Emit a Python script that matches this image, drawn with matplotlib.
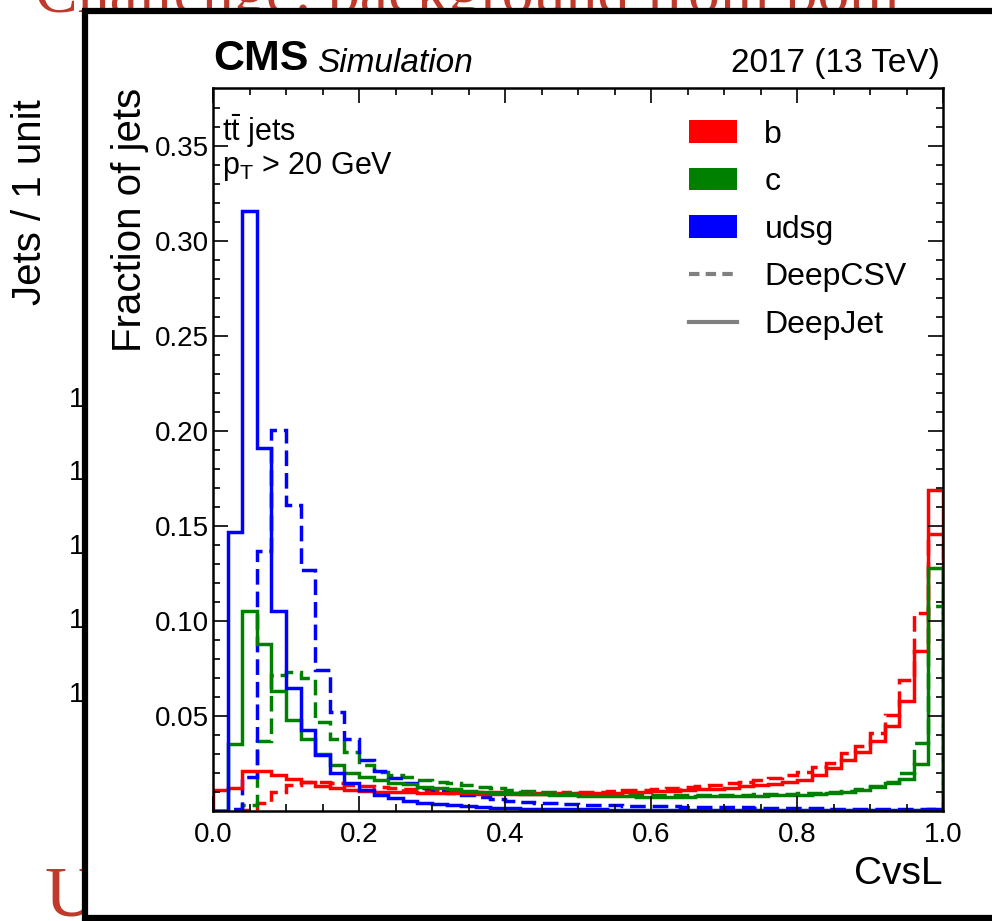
import numpy as np
import matplotlib
matplotlib.use("Agg")
import matplotlib.pyplot as plt
from matplotlib.patches import Rectangle, Patch
from matplotlib.lines import Line2D

plt.rcParams['font.family'] = ['Liberation Sans', 'DejaVu Sans']
plt.rcParams['mathtext.fontset'] = 'custom'
plt.rcParams['mathtext.rm'] = 'Liberation Sans'
plt.rcParams['mathtext.it'] = 'Liberation Sans:italic'

# 50 bins of CvsL between 0 and 1
edges = np.linspace(0.0, 1.0, 51)

b_deepjet = [0.011, 0.012, 0.021, 0.021, 0.019, 0.0167, 0.015, 0.013, 0.012, 0.011,
             0.0105, 0.0102, 0.0100, 0.0098, 0.0096, 0.0095, 0.0094, 0.0093, 0.0092, 0.0091,
             0.0090, 0.0090, 0.0090, 0.0091, 0.0092, 0.0093, 0.0095, 0.0097, 0.0099, 0.0101,
             0.0104, 0.0107, 0.0110, 0.0114, 0.0118, 0.0123, 0.0129, 0.0136, 0.0144, 0.0153,
             0.0163, 0.019, 0.0225, 0.027, 0.031, 0.037, 0.0447, 0.058, 0.084, 0.169]
b_deepcsv = [0.0, 0.0, 0.0005, 0.004, 0.010, 0.0135, 0.0155, 0.0155, 0.0145, 0.0135,
             0.013, 0.0125, 0.012, 0.0115, 0.011, 0.0107, 0.0104, 0.0102, 0.0100, 0.0098,
             0.0097, 0.0096, 0.0096, 0.0097, 0.0098, 0.0100, 0.0102, 0.0105, 0.0110, 0.0113,
             0.0118, 0.0122, 0.0127, 0.0132, 0.0138, 0.0145, 0.0153, 0.0163, 0.0175, 0.019,
             0.0207, 0.023, 0.025, 0.0305, 0.034, 0.041, 0.0505, 0.069, 0.104, 0.146]
c_deepjet = [0.0, 0.0355, 0.105, 0.088, 0.063, 0.048, 0.038, 0.030, 0.024, 0.020,
             0.018, 0.0163, 0.0148, 0.014, 0.0128, 0.012, 0.0114, 0.0107, 0.0102, 0.0097,
             0.0093, 0.0090, 0.0087, 0.0084, 0.0082, 0.0080, 0.0079, 0.0078, 0.0077, 0.0076,
             0.0076, 0.0076, 0.0076, 0.0077, 0.0077, 0.0078, 0.0079, 0.0080, 0.0082, 0.0083,
             0.0085, 0.0088, 0.0093, 0.0100, 0.011, 0.0125, 0.0146, 0.017, 0.0247, 0.128]
c_deepcsv = [0.0, 0.0, 0.003, 0.037, 0.0716, 0.073, 0.070, 0.047, 0.038, 0.031,
             0.024, 0.0207, 0.019, 0.0177, 0.0163, 0.0154, 0.0146, 0.0137, 0.0128, 0.0122,
             0.0112, 0.0107, 0.0102, 0.0098, 0.0094, 0.0091, 0.0088, 0.0086, 0.0085, 0.0084,
             0.0083, 0.0083, 0.0083, 0.0083, 0.0084, 0.0085, 0.0086, 0.0087, 0.0089, 0.0091,
             0.0093, 0.0096, 0.0100, 0.0106, 0.0115, 0.013, 0.015, 0.020, 0.036, 0.108]
udsg_deepjet = [0.0, 0.147, 0.316, 0.191, 0.105, 0.0647, 0.0426, 0.0295, 0.0198, 0.0147,
                0.011, 0.0084, 0.0067, 0.0054, 0.0044, 0.0037, 0.0030, 0.0026, 0.0021, 0.0017,
                0.0014, 0.0012, 0.0011, 0.0010, 0.0009, 0.0008, 0.0008, 0.0007, 0.0007, 0.0006,
                0.0006, 0.0005, 0.0005, 0.0005, 0.0005, 0.0004, 0.0004, 0.0004, 0.0004, 0.0004,
                0.0004, 0.0004, 0.0003, 0.0003, 0.0003, 0.0003, 0.0003, 0.0003, 0.0004, 0.0008]
udsg_deepcsv = [0.0, 0.001, 0.018, 0.137, 0.2005, 0.161, 0.127, 0.074, 0.052, 0.038,
                0.027, 0.021, 0.0175, 0.0145, 0.012, 0.0105, 0.0093, 0.0083, 0.0072, 0.0063,
                0.0055, 0.0049, 0.0044, 0.0040, 0.0037, 0.0034, 0.0032, 0.0030, 0.0028, 0.0026,
                0.0025, 0.0024, 0.0023, 0.0022, 0.0021, 0.0020, 0.0019, 0.0018, 0.0017, 0.0016,
                0.0015, 0.0014, 0.0013, 0.0012, 0.0011, 0.0010, 0.0010, 0.0009, 0.0008, 0.0008]

flavours = ['b', 'c', 'udsg']
colours = ['#ff0000', '#008000', '#0000ff']
deepcsv = [b_deepcsv, c_deepcsv, udsg_deepcsv]
deepjet = [b_deepjet, c_deepjet, udsg_deepjet]

W, H = 992, 921
fig = plt.figure(figsize=(W / 100, H / 100), dpi=100)

# slide leftovers behind the framed plot
slide_red = '#c0392b'
fig.text(35 / W, 1 - 12 / H, 'Challenge: background from both', color=slide_red,
         fontsize=46, family='Liberation Serif', va='baseline', ha='left', zorder=-3)
fig.text(45 / W, 1 - 915 / H, 'U', color=slide_red, fontsize=52,
         family='Liberation Serif', va='baseline', ha='left', zorder=-3)
fig.text(30 / W, 1 - 202 / H, 'Jets / 1 unit', rotation=90, fontsize=29,
         va='center', ha='center', zorder=-3)
for yp in [400, 473, 547, 621, 695]:
    fig.text(84 / W, 1 - yp / H, '1', fontsize=20, va='center', ha='right', zorder=-3)

frame = Rectangle((85 / W, 1 - 918 / H), 1.2, (918 - 11) / H, transform=fig.transFigure,
                  facecolor='white', edgecolor='black', linewidth=4.5, zorder=-2)
fig.add_artist(frame)

ax = fig.add_axes([213 / W, 1 - 811 / H, (943 - 213) / W, (811 - 88) / H])

for vals, col in zip(deepcsv, colours):
    ax.stairs(vals, edges, color=col, linewidth=2.5, linestyle=(0, (4.5, 2)))
for vals, col in zip(deepjet, colours):
    ax.stairs(vals, edges, color=col, linewidth=2.5)

ax.set_xlim(0, 1)
ax.set_ylim(0, 0.3805)
ax.set_xticks(np.arange(0, 1.01, 0.2))
ax.set_xticks(np.arange(0, 1.01, 0.05), minor=True)
ax.set_xticklabels(['0.0', '0.2', '0.4', '0.6', '0.8', '1.0'])
ax.set_yticks([0.05, 0.10, 0.15, 0.20, 0.25, 0.30, 0.35])
ax.set_yticks(np.arange(0.01, 0.38, 0.01), minor=True)
ax.set_yticklabels(['0.05', '0.10', '0.15', '0.20', '0.25', '0.30', '0.35'])
ax.tick_params(which='both', direction='in', top=True, right=True, labelsize=20)
ax.tick_params(which='major', length=11, width=1.2)
ax.tick_params(which='minor', length=5, width=1.2)
ax.tick_params(axis='x', which='major', pad=8)
ax.tick_params(axis='y', which='major', pad=3)
for s in ax.spines.values():
    s.set_linewidth(1.8)

ax.set_xlabel('CvsL', fontsize=28, loc='right', labelpad=6)
ax.set_ylabel('Fraction of jets', fontsize=29, loc='top', labelpad=4)

ax.text(0.0, 1.012, 'CMS', transform=ax.transAxes, fontsize=31, fontweight='bold',
        va='bottom', ha='left')
ax.text(0.143, 1.012, 'Simulation', transform=ax.transAxes, fontsize=24, style='italic',
        va='bottom', ha='left')
ax.text(0.996, 1.012, '2017 (13 TeV)', transform=ax.transAxes, fontsize=24,
        va='bottom', ha='right')

ax.text(0.012, 0.941, r'$\mathrm{t\bar{t}}$ jets', transform=ax.transAxes, fontsize=22,
        va='center', ha='left')
ax.text(0.012, 0.891, r'p$_\mathrm{T}$ > 20 GeV', transform=ax.transAxes, fontsize=22,
        va='center', ha='left')

handles = [Patch(facecolor=c, edgecolor='none') for c in colours]
handles += [Line2D([], [], color='#808080', lw=3, linestyle=(0, (2.5, 1.5))),
            Line2D([], [], color='#808080', lw=3)]
labels = flavours + ['DeepCSV', 'DeepJet']
ax.legend(handles, labels, loc='upper left', bbox_to_anchor=(0.635, 0.974), frameon=False,
          fontsize=23, handlelength=1.5, handleheight=0.7, handletextpad=0.85,
          labelspacing=0.55, borderaxespad=0)

fig.savefig('out.png', dpi=100)
